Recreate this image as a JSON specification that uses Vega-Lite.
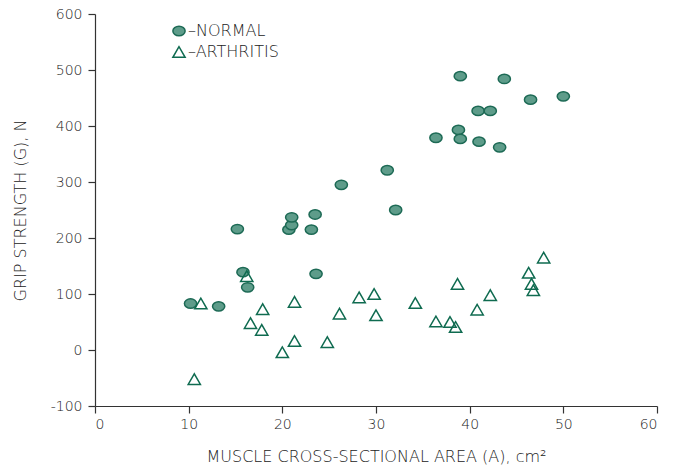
{
  "$schema": "https://vega.github.io/schema/vega-lite/v6.json",
  "width": 562,
  "height": 392,
  "autosize": "none",
  "padding": {"left": 95, "top": 14, "right": 19, "bottom": 64},
  "background": "white",
  "config": {
    "view": {"stroke": null},
    "font": "DejaVu Sans",
    "axis": {
      "domainColor": "#333333",
      "tickColor": "#333333",
      "domainWidth": 1.2,
      "tickWidth": 1.2,
      "tickSize": 7,
      "grid": false,
      "labelFont": "DejaVu Sans",
      "labelFontSize": 14,
      "labelFontWeight": 200,
      "labelColor": "#222222",
      "titleFont": "DejaVu Sans",
      "titleFontSize": 16,
      "titleFontWeight": 200,
      "titleColor": "#222222"
    }
  },
  "data": {
    "values": [
      {"area": 10.2, "grip": 83, "group": "NORMAL"},
      {"area": 13.2, "grip": 78, "group": "NORMAL"},
      {"area": 15.2, "grip": 216, "group": "NORMAL"},
      {"area": 15.8, "grip": 139, "group": "NORMAL"},
      {"area": 16.3, "grip": 112, "group": "NORMAL"},
      {"area": 20.7, "grip": 215, "group": "NORMAL"},
      {"area": 21.0, "grip": 223, "group": "NORMAL"},
      {"area": 21.0, "grip": 237, "group": "NORMAL"},
      {"area": 23.1, "grip": 215, "group": "NORMAL"},
      {"area": 23.5, "grip": 242, "group": "NORMAL"},
      {"area": 23.6, "grip": 136, "group": "NORMAL"},
      {"area": 26.3, "grip": 295, "group": "NORMAL"},
      {"area": 31.2, "grip": 321, "group": "NORMAL"},
      {"area": 32.1, "grip": 250, "group": "NORMAL"},
      {"area": 36.4, "grip": 379, "group": "NORMAL"},
      {"area": 38.8, "grip": 393, "group": "NORMAL"},
      {"area": 39.0, "grip": 377, "group": "NORMAL"},
      {"area": 39.0, "grip": 489, "group": "NORMAL"},
      {"area": 40.9, "grip": 427, "group": "NORMAL"},
      {"area": 41.0, "grip": 372, "group": "NORMAL"},
      {"area": 42.2, "grip": 427, "group": "NORMAL"},
      {"area": 43.2, "grip": 362, "group": "NORMAL"},
      {"area": 43.7, "grip": 484, "group": "NORMAL"},
      {"area": 46.5, "grip": 447, "group": "NORMAL"},
      {"area": 50.0, "grip": 453, "group": "NORMAL"},
      {"area": 16.2, "grip": 132, "group": "ARTHRITIS"},
      {"area": 11.3, "grip": 83, "group": "ARTHRITIS"},
      {"area": 17.9, "grip": 73, "group": "ARTHRITIS"},
      {"area": 21.3, "grip": 86, "group": "ARTHRITIS"},
      {"area": 26.1, "grip": 65, "group": "ARTHRITIS"},
      {"area": 16.6, "grip": 48, "group": "ARTHRITIS"},
      {"area": 17.8, "grip": 36, "group": "ARTHRITIS"},
      {"area": 21.3, "grip": 16, "group": "ARTHRITIS"},
      {"area": 24.8, "grip": 14, "group": "ARTHRITIS"},
      {"area": 20.0, "grip": -4, "group": "ARTHRITIS"},
      {"area": 10.6, "grip": -52, "group": "ARTHRITIS"},
      {"area": 28.2, "grip": 94, "group": "ARTHRITIS"},
      {"area": 29.8, "grip": 100, "group": "ARTHRITIS"},
      {"area": 30.0, "grip": 62, "group": "ARTHRITIS"},
      {"area": 34.2, "grip": 84, "group": "ARTHRITIS"},
      {"area": 36.4, "grip": 51, "group": "ARTHRITIS"},
      {"area": 37.9, "grip": 50, "group": "ARTHRITIS"},
      {"area": 38.5, "grip": 41, "group": "ARTHRITIS"},
      {"area": 38.7, "grip": 118, "group": "ARTHRITIS"},
      {"area": 40.8, "grip": 72, "group": "ARTHRITIS"},
      {"area": 42.2, "grip": 98, "group": "ARTHRITIS"},
      {"area": 46.3, "grip": 138, "group": "ARTHRITIS"},
      {"area": 46.6, "grip": 118, "group": "ARTHRITIS"},
      {"area": 46.8, "grip": 107, "group": "ARTHRITIS"},
      {"area": 47.9, "grip": 165, "group": "ARTHRITIS"}
    ]
  },
  "mark": {"type": "point", "filled": false, "strokeWidth": 1.5, "size": 150, "opacity": 1},
  "encoding": {
    "x": {
      "field": "area", "type": "quantitative",
      "scale": {"domain": [0, 60], "nice": false, "zero": false},
      "axis": {"values": [0, 10, 20, 30, 40, 50, 60], "title": "MUSCLE CROSS-SECTIONAL AREA (A), cm²", "titlePadding": 17, "labelPadding": 4}
    },
    "y": {
      "field": "grip", "type": "quantitative",
      "scale": {"domain": [-100, 600], "nice": false, "zero": false},
      "axis": {"values": [-100, 0, 100, 200, 300, 400, 500, 600], "labelExpr": "replace(datum.label, '−', '-')", "title": "GRIP STRENGTH (G), N", "titlePadding": 22, "labelPadding": 6}
    },
    "shape": {
      "field": "group", "type": "nominal",
      "scale": {"domain": ["NORMAL", "ARTHRITIS"], "range": ["M-1,0A1,0.76 0 1,1 1,0A1,0.76 0 1,1 -1,0Z", "triangle-up"]},
      "legend": {
        "title": null, "orient": "none", "legendX": 76, "legendY": 9,
        "labelExpr": "'–' + datum.label", "labelFontSize": 16, "labelFontWeight": 200, "labelColor": "#222222", "labelFont": "DejaVu Sans",
        "symbolSize": 150, "symbolStrokeWidth": 1.5, "rowPadding": 4, "labelOffset": 1
      }
    },
    "fill": {
      "field": "group", "type": "nominal",
      "scale": {"domain": ["NORMAL", "ARTHRITIS"], "range": ["#5e9c8a", "transparent"]},
      "legend": null
    },
    "stroke": {
      "field": "group", "type": "nominal",
      "scale": {"domain": ["NORMAL", "ARTHRITIS"], "range": ["#1d6a55", "#0f6b50"]},
      "legend": null
    }
  }
}
